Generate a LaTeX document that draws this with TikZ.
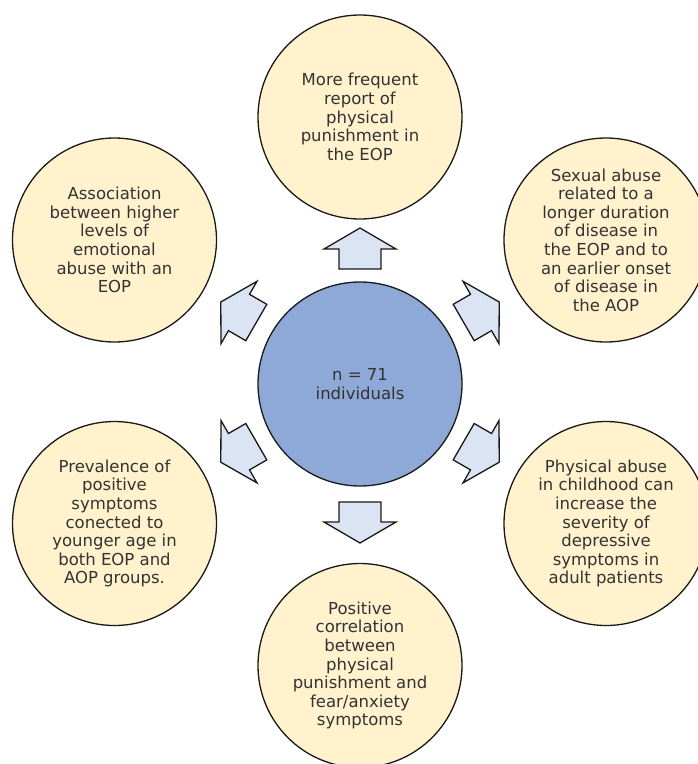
\documentclass[tikz,border=0pt]{standalone}
\usepackage{fontspec}
\setmainfont{DejaVu Sans}
\definecolor{bubble}{HTML}{FFF2CC}
\definecolor{hub}{HTML}{8EA9D8}
\definecolor{arrowfill}{HTML}{DAE4F2}
\definecolor{txt}{HTML}{333333}
\begin{document}
\begin{tikzpicture}[x=1pt,y=-1pt,
  bubblenode/.style={circle,draw=black!90,line width=1.3pt,fill=bubble,minimum size=204pt,inner sep=0pt,align=center,text=txt,font=\fontsize{16.5}{18.6}\selectfont},
  hubnode/.style={bubblenode,fill=hub},
  blockarrow/.pic={\draw[line width=1.3pt,fill=arrowfill,draw=black!90,line join=miter]
     (0,-21) -- (20,-21) -- (20,-36) -- (41,0) -- (20,36) -- (20,21) -- (0,21) -- cycle;}
]
\useasboundingbox (0,0) rectangle (697,764);
\node[hubnode] (hub) at (360,384) {n = 71\\individuals};
\node[bubblenode] (top) at (360,117) {More frequent\\report of\\physical\\punishment in\\the EOP};
\node[bubblenode] (ul) at (114.5,240) {Association\\between higher\\levels of\\emotional\\abuse with an\\EOP};
\node[bubblenode] (ur) at (606,240) {Sexual abuse\\related to a\\longer duration\\of disease in\\the EOP and to\\an earlier onset\\of disease in\\the AOP};
\node[bubblenode] (ll) at (114.5,523.5) {Prevalence of\\positive\\symptoms\\conected to\\younger age in\\both EOP and\\AOP groups.};
\node[bubblenode] (lr) at (606,523.5) {Physical abuse\\in childhood can\\increase the\\severity of\\depressive\\symptoms in\\adult patients};
\node[bubblenode] (bot) at (360,665.5) {Positive\\correlation\\between\\physical\\punishment and\\fear/anxiety\\symptoms};
\pic[rotate=90] at (360,269) {blockarrow};
\pic[rotate=-90] at (360,502) {blockarrow};
\pic[rotate=150] at (256.3,322.5) {blockarrow};
\pic[rotate=30] at (463.7,322.5) {blockarrow};
\pic[rotate=210] at (256.3,441.7) {blockarrow};
\pic[rotate=-30] at (463.7,441.7) {blockarrow};
\end{tikzpicture}
\end{document}
